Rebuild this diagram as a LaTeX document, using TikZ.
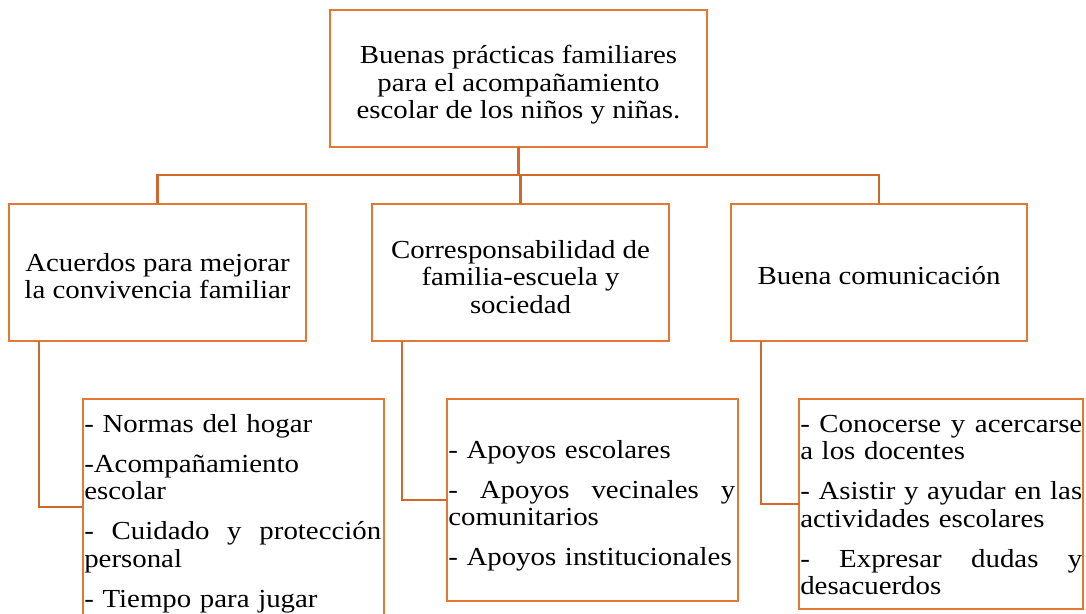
\documentclass[tikz,border=0pt]{standalone}
\usepackage{fontspec}
\setmainfont{Liberation Serif}[FakeStretch=1.11]
\usetikzlibrary{calc}
\definecolor{boxorange}{RGB}{226,120,52}
\definecolor{lineorange}{RGB}{208,106,42}
\newcommand{\fullline}[2]{\leavevmode\hbox to #1{#2}}
\newcommand{\nohyph}{\hyphenpenalty=10000\relax\exhyphenpenalty=10000\relax}
\begin{document}
\begin{tikzpicture}[x=0.75pt,y=-0.75pt,
  box/.style={draw=boxorange, line width=2.2pt, inner sep=0pt, outer sep=0pt},
  conn/.style={draw=lineorange, line width=1.9pt},
  basefont/.style={font=\fontsize{19.5pt}{20.6pt}\selectfont\nohyph},
  ctxt/.style={basefont, align=center, inner sep=0pt, anchor=north},
  ltxt/.style={basefont, align=left, inner sep=0pt, anchor=north west}]
\useasboundingbox (0,0) rectangle (1086,614);
\clip (0,0) rectangle (1086,614);
% boxes
\node[box, minimum width=377*0.75pt, minimum height=137*0.75pt] (T) at (518.5,78.5) {};
\node[box, minimum width=297*0.75pt, minimum height=137*0.75pt] (A) at (157.5,272.5) {};
\node[box, minimum width=297*0.75pt, minimum height=137*0.75pt] (B) at (520.5,272.5) {};
\node[box, minimum width=296*0.75pt, minimum height=137*0.75pt] (C) at (879,272.5) {};
\node[box, minimum width=301*0.75pt, minimum height=216*0.75pt] (D) at (233.5,507) {};
\node[box, minimum width=291*0.75pt, minimum height=202*0.75pt] (E) at (592.5,500) {};
\node[box, minimum width=284*0.75pt, minimum height=210*0.75pt] (F) at (941,504) {};
% texts
\node[ctxt] (Tt) at (518.5,45) {Buenas prácticas familiares\\para el acompañamiento\\escolar de los niños y niñas.};
\node[ctxt] (At) at (157.5,253) {Acuerdos para mejorar\\la convivencia familiar};
\node[ctxt] (Bt) at (520.5,240) {Corresponsabilidad de\\familia-escuela y\\sociedad};
\node[ctxt, anchor=base] (Ct) at (879,284) {Buena comunicación};
\node[ltxt, text width=297*0.75pt] (Dt) at (84,414) {- Normas del hogar\\[9.4pt]
-Acompañamiento\\escolar\\[9.4pt]
\fullline{222.75pt}{-\hfill Cuidado\hfill y\hfill protección}\\personal\\[9.4pt]
- Tiempo para jugar};
\node[ltxt, text width=289*0.75pt] (Et) at (448,440) {- Apoyos escolares\\[9.4pt]
\fullline{215.25pt}{-\hfill Apoyos\hfill vecinales\hfill y}\\comunitarios\\[9.4pt]
- Apoyos institucionales};
\node[ltxt, text width=282*0.75pt] (Ft) at (800,415) {\fullline{211.5pt}{-\hfill Conocerse\hfill y\hfill acercarse}\\a los docentes\\[9.4pt]
\fullline{211.5pt}{-\hfill Asistir\hfill y\hfill ayudar\hfill en\hfill las}\\actividades escolares\\[9.4pt]
\fullline{211.5pt}{-\hfill Expresar\hfill dudas\hfill y}\\desacuerdos};
% connectors
\coordinate (bus) at (0,175);
\draw[conn] (T.south) -- (T.south |- bus);
\draw[conn] (A.north) |- (bus -| C.north) -- (C.north);
\draw[conn] (B.north) -- (B.north |- bus);
\draw[conn] ($(A.south west)+(30,0)$) |- (D.west);
\draw[conn] ($(B.south west)+(30,0)$) |- (E.west);
\draw[conn] ($(C.south west)+(30,0)$) |- (F.west);
\end{tikzpicture}
\end{document}
